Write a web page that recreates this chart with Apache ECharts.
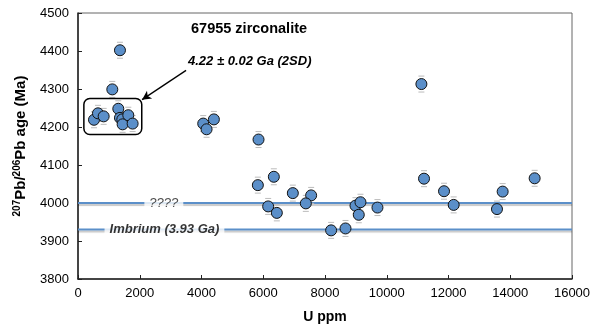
<!DOCTYPE html>
<html>
<head>
<meta charset="utf-8">
<script src="https://cdn.jsdelivr.net/npm/echarts@6/dist/echarts.min.js"></script>
<style>
  html, body { margin: 0; padding: 0; background: #fff; }
  #chart { width: 596px; height: 330px; }
</style>
</head>
<body>
<div id="chart"></div>
<script>
const uPpm = [518, 647, 831, 1305, 1359, 1435, 1445, 1629, 1769, 1359, 1111,
  4056, 4164, 4401, 5847, 5825, 6343, 6958, 7551, 7379, 6159, 6440,
  8198, 8664, 8987, 9149, 9094, 9699,
  11122, 11207, 11855, 12168, 13570, 13754, 14790];
const ageMa = [4219, 4236, 4228, 4248, 4224, 4220, 4207, 4231, 4209, 4402, 4299,
  4209, 4194, 4220, 4167, 4047, 4069, 4026, 4020, 3999, 3991, 3974,
  3928, 3933, 3993, 4002, 3969, 3988,
  4313, 4064, 4031, 3995, 3984, 4030, 4065];
const errMa = 21;

const refAges = [4000, 3930];
const refLabels = ["????", "Imbrium (3.93 Ga)"];
const refLabelX = [2780, 2800];

const clusterBox = [[190, 4275], [2065, 4180]];
const arrowFrom = [3500, 4349];
const arrowTo = [2075, 4272];

const FONT = "Liberation Sans, Arial, sans-serif";
const points = uPpm.map((u, i) => [u, ageMa[i]]);

const chart = echarts.init(document.getElementById("chart"));

const refSeries = refAges.map((a) => ({
  type: "line",
  data: [[0, a], [16000, a]],
  symbol: "none",
  silent: true,
  z: 1,
  lineStyle: {
    color: "#5b8fc9", width: 2,
    shadowColor: "rgba(0,0,0,0.22)", shadowBlur: 1, shadowOffsetY: 2
  }
}));

chart.setOption({
  animation: false,
  grid: { left: 78, right: 24, top: 13, bottom: 51, show: true, borderColor: "#666", borderWidth: 1 },
  xAxis: {
    type: "value", min: 0, max: 16000, interval: 2000,
    name: "U ppm", nameLocation: "middle", nameGap: 31,
    nameTextStyle: { fontFamily: FONT, fontSize: 14, fontWeight: "bold", color: "#000" },
    axisLine: { lineStyle: { color: "#222", width: 1.5 } },
    axisTick: { inside: true, length: 4, lineStyle: { color: "#222" } },
    axisLabel: { fontFamily: FONT, fontSize: 13, color: "#000", margin: 8, formatter: (v) => String(v) },
    splitLine: { show: false }
  },
  yAxis: {
    type: "value", min: 3800, max: 4500, interval: 100,
    name: "{sup|207}{b|Pb/}{sup|206}{b|Pb age (Ma)}",
    nameLocation: "middle", nameRotate: 90, nameGap: 29,
    nameTextStyle: {
      fontFamily: FONT, color: "#000",
      rich: {
        b: { fontFamily: FONT, fontSize: 15, fontWeight: "bold", color: "#000", lineHeight: 18 },
        sup: { fontFamily: FONT, fontSize: 10, fontWeight: "bold", color: "#000", verticalAlign: "top", lineHeight: 18, padding: [0, 0, 7, 0] }
      }
    },
    axisLine: { lineStyle: { color: "#222", width: 1.5 } },
    axisTick: { inside: true, length: 4, lineStyle: { color: "#222" } },
    axisLabel: { fontFamily: FONT, fontSize: 13, color: "#000", margin: 9, formatter: (v) => String(v) },
    splitLine: { show: false }
  },
  series: [
    ...refSeries,
    {
      type: "scatter",
      data: refAges.map((a, i) => ({
        value: [refLabelX[i], a],
        label: i === 1 ? { fontWeight: "bold", color: "#000" } : {}
      })),
      symbolSize: 0,
      silent: true,
      z: 3,
      label: {
        show: true, position: "inside",
        formatter: (p) => refLabels[p.dataIndex],
        fontFamily: FONT, fontSize: 13, fontStyle: "italic", color: "#222",
        backgroundColor: "#fff", padding: [1, 5]
      }
    },
    {
      type: "custom",
      data: points,
      silent: true,
      z: 4,
      renderItem: (params, api) => {
        const x = api.value(0), y = api.value(1);
        const hi = api.coord([x, y + errMa]);
        const lo = api.coord([x, y - errMa]);
        const st = { stroke: "#bbb", lineWidth: 1 };
        return {
          type: "group",
          children: [
            { type: "line", shape: { x1: hi[0] - 3, y1: hi[1], x2: hi[0] + 3, y2: hi[1] }, style: st },
            { type: "line", shape: { x1: lo[0] - 3, y1: lo[1], x2: lo[0] + 3, y2: lo[1] }, style: st }
          ]
        };
      }
    },
    {
      type: "scatter",
      data: points,
      symbol: "circle",
      symbolSize: 11,
      z: 5,
      itemStyle: { color: "#5b8fc9", borderColor: "#111", borderWidth: 1, opacity: 1 },
      markLine: {
        silent: true,
        symbol: ["none", "arrow"],
        symbolSize: [7, 9],
        label: { show: false },
        lineStyle: { color: "#000", type: "solid", width: 1.3 },
        data: [[{ coord: arrowFrom }, { coord: arrowTo }]]
      }
    }
  ]
});

const p0 = chart.convertToPixel({ gridIndex: 0 }, clusterBox[0]);
const p1 = chart.convertToPixel({ gridIndex: 0 }, clusterBox[1]);

chart.setOption({
  graphic: [
    {
      type: "rect", z: 10,
      shape: { x: p0[0], y: p0[1], width: p1[0] - p0[0], height: p1[1] - p0[1], r: 6 },
      style: { fill: "none", stroke: "#000", lineWidth: 1.5 }
    },
    {
      type: "text", z: 10, left: 191, top: 21,
      style: { text: "67955 zirconalite", font: "bold 14.5px " + FONT, fill: "#000" }
    },
    {
      type: "text", z: 10, left: 188, top: 55,
      style: { text: "4.22 ± 0.02 Ga (2SD)", font: "italic bold 13px " + FONT, fill: "#000" }
    }
  ]
});
</script>
</body>
</html>
